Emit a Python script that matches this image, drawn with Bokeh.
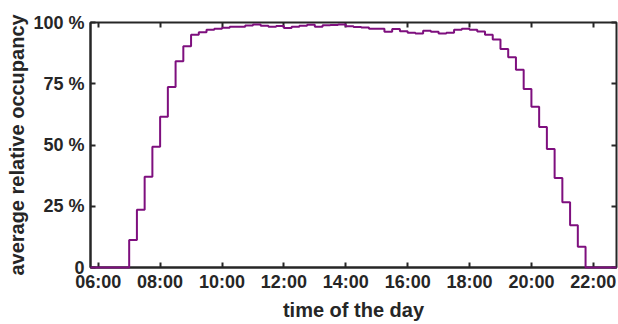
from bokeh.plotting import figure
from bokeh.models import Range1d, LinearAxis, FixedTicker
from bokeh.embed import file_html
from bokeh.resources import INLINE

# 15-minute bins (start times) and average relative occupancy in %
bin_start = ["05:45", "06:00", "06:15", "06:30", "06:45",
             "07:00", "07:15", "07:30", "07:45",
             "08:00", "08:15", "08:30", "08:45",
             "09:00", "09:15", "09:30", "09:45",
             "10:00", "10:15", "10:30", "10:45",
             "11:00", "11:15", "11:30", "11:45",
             "12:00", "12:15", "12:30", "12:45",
             "13:00", "13:15", "13:30", "13:45",
             "14:00", "14:15", "14:30", "14:45",
             "15:00", "15:15", "15:30", "15:45",
             "16:00", "16:15", "16:30", "16:45",
             "17:00", "17:15", "17:30", "17:45",
             "18:00", "18:15", "18:30", "18:45",
             "19:00", "19:15", "19:30", "19:45",
             "20:00", "20:15", "20:30", "20:45",
             "21:00", "21:15", "21:30", "21:45",
             "22:00", "22:15", "22:30"]
occupancy = [0, 0, 0, 0, 0,
             11.2, 23.6, 37.0, 49.3,
             61.5, 73.7, 84.2, 90.3,
             95.0, 96.0, 97.0, 97.4,
             97.9, 98.3, 98.3, 98.8,
             99.2, 98.7, 98.3, 98.6,
             97.8, 98.3, 98.7, 99.1,
             98.3, 98.9, 99.0, 99.2,
             98.5, 98.2, 98.0, 97.5,
             97.4, 96.2, 97.3, 96.4,
             95.8, 95.5, 96.6, 96.2,
             95.5, 95.8, 97.0, 97.4,
             97.0, 96.3, 95.0, 93.1,
             89.2, 85.8, 80.7, 72.9,
             65.6, 57.3, 48.4, 36.5,
             26.6, 17.2, 8.5, 0,
             0, 0, 0]
bin_end = "22:45"

x_ticks = [6, 8, 10, 12, 14, 16, 18, 20, 22]
x_tick_labels = ["06:00", "08:00", "10:00", "12:00", "14:00", "16:00", "18:00", "20:00", "22:00"]
y_ticks = [0, 25, 50, 75, 100]
y_tick_labels = ["0", "25 %", "50 %", "75 %", "100 %"]


def to_hours(s):
    h, m = s.split(":")
    return int(h) + int(m) / 60.0


xs = [to_hours(s) for s in bin_start] + [to_hours(bin_end)]
ys = occupancy + [occupancy[-1]]

FONT = "Liberation Sans"
TXT = "#262626"
LINE = "#7E0F7E"

p = figure(width=618, height=324, output_backend="svg", toolbar_location=None,
           x_range=Range1d(xs[0], xs[-1]), y_range=Range1d(0, 100),
           min_border_left=90, min_border_right=2, min_border_top=22, min_border_bottom=57)
p.xgrid.visible = False
p.ygrid.visible = False
p.outline_line_color = TXT
p.outline_line_width = 2
p.background_fill_color = "white"
p.border_fill_color = "white"

p.step(xs, ys, mode="after", line_color=LINE, line_width=2, level="overlay")

for ax in p.xaxis:
    ax.ticker = FixedTicker(ticks=x_ticks)
    ax.major_label_overrides = {t: l for t, l in zip(x_ticks, x_tick_labels)}
    ax.axis_label = "time of the day"
    ax.major_label_standoff = 4
    ax.axis_label_standoff = 4
for ax in p.yaxis:
    ax.ticker = FixedTicker(ticks=y_ticks)
    ax.major_label_overrides = {t: l for t, l in zip(y_ticks, y_tick_labels)}
    ax.axis_label = "average relative occupancy"
    ax.major_label_standoff = 6
    ax.axis_label_standoff = 2

for ax in p.xaxis + p.yaxis:
    ax.minor_tick_line_color = None
    ax.major_tick_in = 5
    ax.major_tick_out = 0
    ax.major_tick_line_color = TXT
    ax.major_tick_line_width = 2
    ax.axis_line_color = TXT
    ax.axis_line_width = 2
    ax.major_label_text_font = FONT
    ax.major_label_text_font_style = "bold"
    ax.major_label_text_font_size = "18px"
    ax.major_label_text_color = TXT
    ax.axis_label_text_font = FONT
    ax.axis_label_text_font_style = "bold"
    ax.axis_label_text_font_size = "20px"
    ax.axis_label_text_color = TXT

# mirrored ticks on top and right (box)
top = LinearAxis(ticker=FixedTicker(ticks=x_ticks), major_label_text_font_size="0px",
                 major_label_standoff=0, major_tick_in=5, major_tick_out=0,
                 minor_tick_line_color=None, axis_line_color=None,
                 major_tick_line_color=TXT, major_tick_line_width=2)
right = LinearAxis(ticker=FixedTicker(ticks=y_ticks), major_label_text_font_size="0px",
                   major_label_standoff=0, major_tick_in=5, major_tick_out=0,
                   minor_tick_line_color=None, axis_line_color=None,
                   major_tick_line_color=TXT, major_tick_line_width=2)
p.add_layout(top, "above")
p.add_layout(right, "right")

open("out.html", "w").write(file_html(p, INLINE))
